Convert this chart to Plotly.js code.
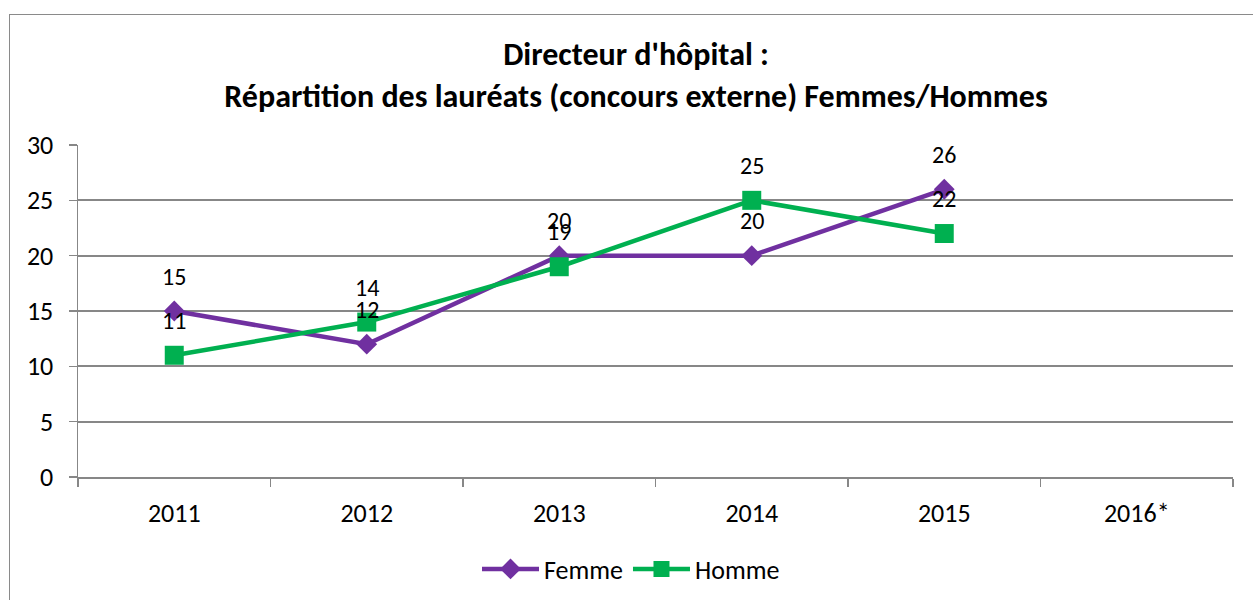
<!DOCTYPE html>
<html>
<head>
<meta charset="utf-8">
<script src="https://cdn.plot.ly/plotly-3.0.1.min.js"></script>
<style>
  html, body { margin: 0; padding: 0; background: #fff; overflow: hidden; }
  #frame { position: absolute; left: 9px; top: 14px; width: 1400px; height: 800px; border: 1.5px solid #8a8a8a; box-sizing: border-box; pointer-events: none; }
  #chart { position: absolute; left: 0; top: 0; width: 1253px; height: 600px; }
</style>
</head>
<body>
<div id="chart"></div>
<div id="frame"></div>
<script>
const categories = ['2011', '2012', '2013', '2014', '2015', '2016*'];
const femme = [15, 12, 20, 20, 26, null];
const homme = [11, 14, 19, 25, 22, null];
const seriesNames = ['Femme', 'Homme'];
const yTicks = [0, 5, 10, 15, 20, 25, 30];

const purple = '#7030A0';
const green = '#00B050';
const fontFam = 'Carlito, Calibri, Lato, sans-serif';

const traces = [
  {
    x: categories, y: femme, name: seriesNames[0], type: 'scatter', mode: 'lines+markers',
    line: { color: purple, width: 4.5 },
    marker: { symbol: 'diamond', size: 16, color: purple },
    cliponaxis: false
  },
  {
    x: categories, y: homme, name: seriesNames[1], type: 'scatter', mode: 'lines+markers',
    line: { color: green, width: 4.5 },
    marker: { symbol: 'square', size: 19, color: green },
    cliponaxis: false
  }
];

const annotations = [];
[femme, homme].forEach(function (series) {
  series.forEach(function (v, i) {
    if (v === null) return;
    annotations.push({
      x: i, y: v, xref: 'x', yref: 'y',
      text: String(v), showarrow: false,
      yshift: 35, xanchor: 'center', yanchor: 'middle',
      font: { family: fontFam, size: 24, color: '#000' }
    });
  });
});

const layout = {
  width: 1253, height: 600,
  paper_bgcolor: 'rgba(0,0,0,0)', plot_bgcolor: 'rgba(0,0,0,0)',
  margin: { l: 78, r: 20, t: 145, b: 123 },
  font: { family: fontFam, size: 26, color: '#000' },
  title: {
    text: "<b>Directeur d'hôpital :</b><br><b>Répartition des lauréats (concours externe) Femmes/Hommes</b>",
    font: { family: fontFam, size: 32, color: '#000' },
    xref: 'container', x: 636 / 1253, xanchor: 'center',
    yref: 'container', y: 1 - 65 / 600, yanchor: 'top'
  },
  xaxis: {
    type: 'category', categoryorder: 'array', categoryarray: categories,
    range: [-0.5, categories.length - 0.5],
    tickson: 'boundaries', ticks: 'outside', ticklen: 8, tickwidth: 1.5, tickcolor: '#878787',
    showgrid: false, showline: true, linecolor: '#878787', linewidth: 2,
    tickfont: { family: fontFam, size: 26, color: '#000' },
    ticklabelstandoff: 12, zeroline: false, fixedrange: true, automargin: false
  },
  yaxis: {
    range: [0, 30], tickvals: yTicks, ticktext: yTicks.map(String),
    ticks: 'outside', ticklen: 8, tickwidth: 1.5, tickcolor: '#878787',
    showgrid: true, gridcolor: '#878787', gridwidth: 1.7,
    showline: true, linecolor: '#878787', linewidth: 1.5,
    zeroline: false,
    tickfont: { family: fontFam, size: 26, color: '#000' },
    ticklabelstandoff: 10, fixedrange: true, automargin: false
  },
  showlegend: true,
  legend: {
    orientation: 'h',
    xref: 'container', x: 631 / 1253, xanchor: 'center',
    yref: 'container', y: (600 - 569) / 600, yanchor: 'middle',
    itemwidth: 57, font: { family: fontFam, size: 26, color: '#000' },
    bgcolor: 'rgba(0,0,0,0)'
  },
  annotations: annotations
};

Plotly.newPlot('chart', traces, layout, { displayModeBar: false, staticPlot: true });
</script>
</body>
</html>
